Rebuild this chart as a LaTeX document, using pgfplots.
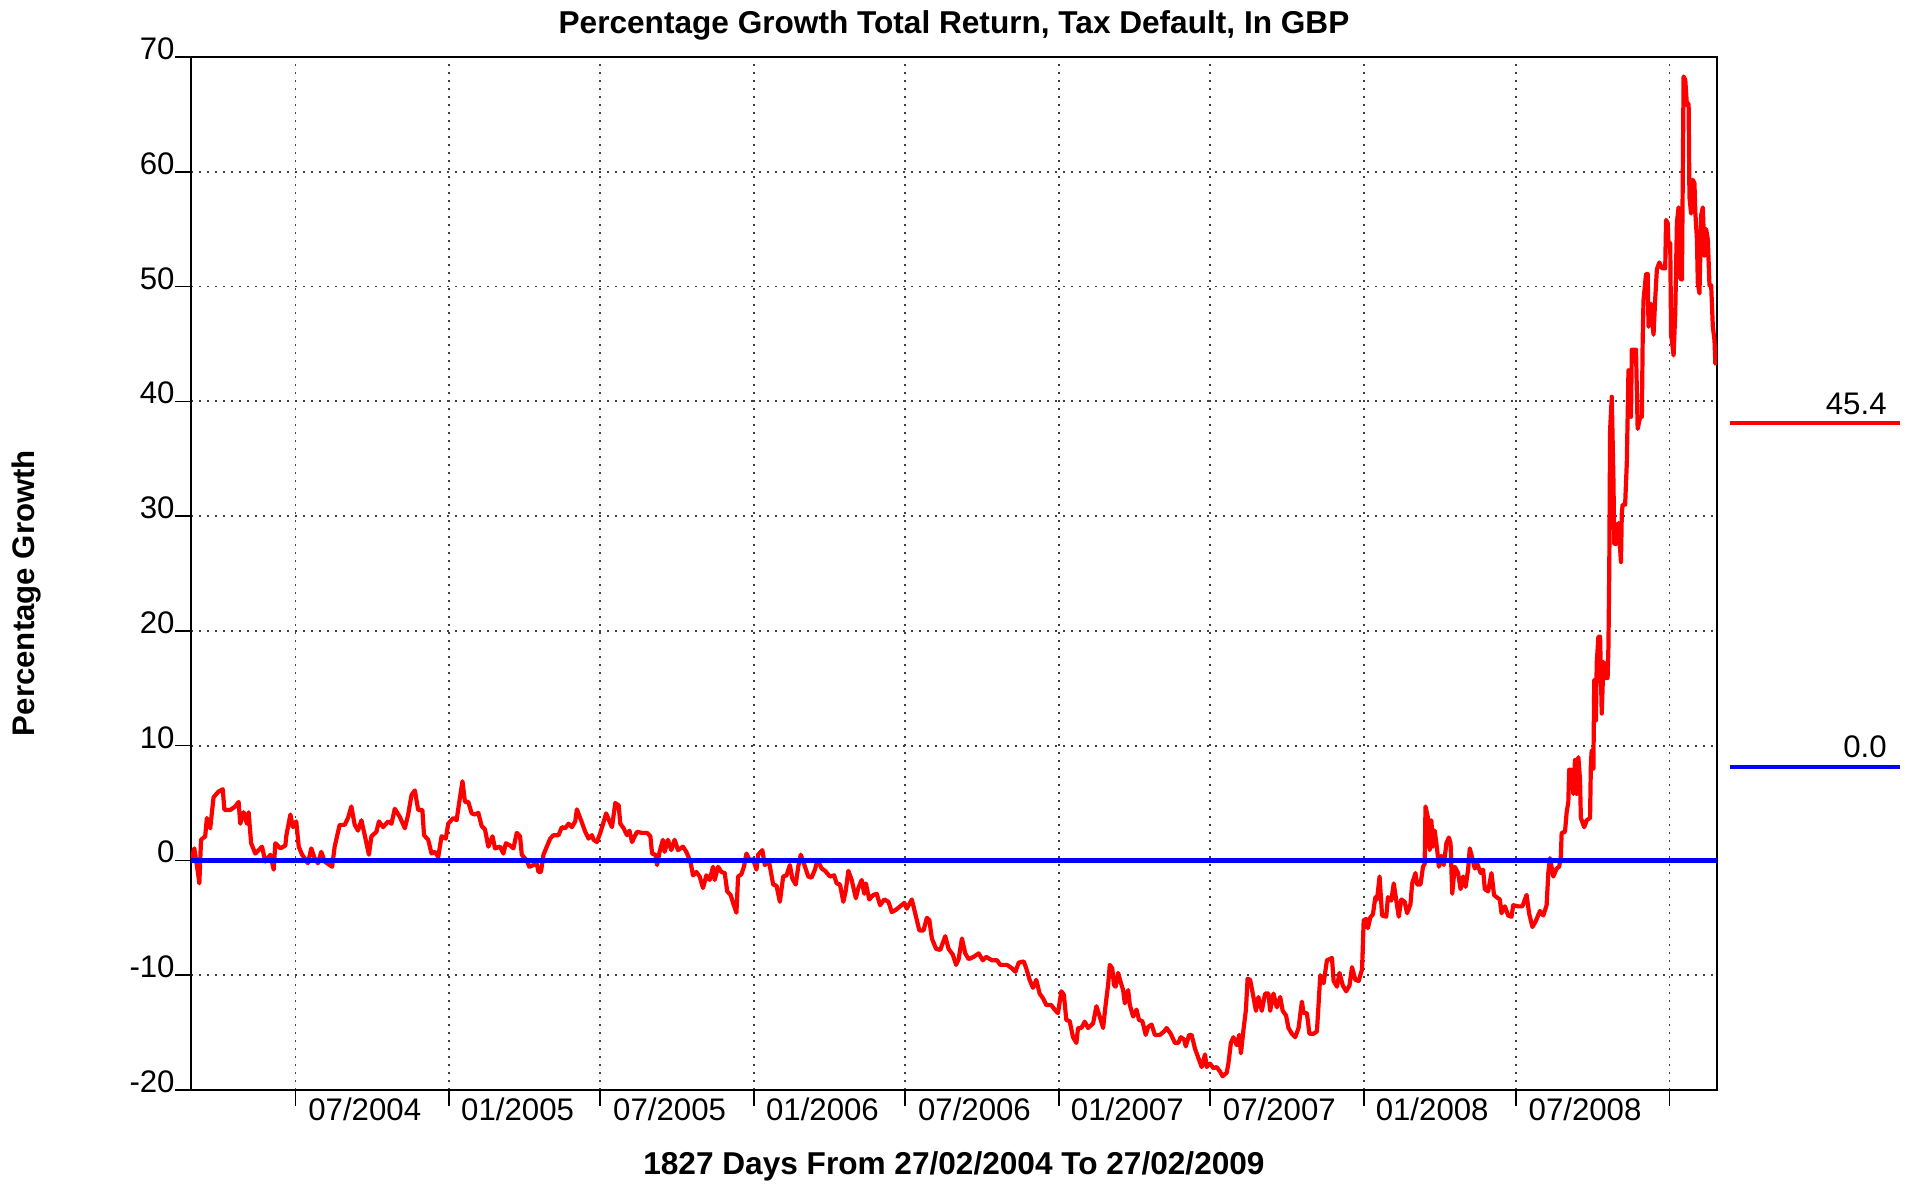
\documentclass[border=0pt]{standalone}
\usepackage{pgfplots}
\pgfplotsset{compat=1.18}
\usepackage{fontspec}
\setmainfont{Liberation Sans}
\begin{document}
\begin{tikzpicture}
\path[use as bounding box] (-95.5pt,-51pt) rectangle (859.5pt,545pt);
\begin{axis}[
  at={(0pt,0pt)}, anchor=south west,
  width=763pt, height=516.5pt, scale only axis,
  xmin=0, xmax=1827, ymin=-20, ymax=70,
  axis line style={line width=1pt, black},
  xtick={125,309,490,674,855,1039,1220,1404,1586,1770},
  xticklabels={},
  extra x ticks={208,391,573,756,938,1121,1303,1486,1669},
  extra x tick labels={07/2004,01/2005,07/2005,01/2006,07/2006,01/2007,07/2007,01/2008,07/2008},
  extra x tick style={major tick length=0pt, grid=none},
  ytick={-20,-10,...,70},
  tick align=outside, xtick pos=bottom, ytick pos=left,
  major tick length=8pt,
  tick style={black, line width=0.8pt},
  grid=major,
  major grid style={black!75, line width=0.9pt, dash pattern=on 0.9pt off 3.1pt},
  tick label style={font=\fontsize{15.6}{17}\selectfont},
  /pgf/number format/assume math mode=true,
  yticklabel style={anchor=south east, inner sep=0pt, yshift=-1.6pt},
  xticklabel style={anchor=north, inner sep=0pt, yshift=-3.7pt},
]
\addplot[red, line width=2.1pt, line join=round] coordinates {
(0,0.0) (4,1.05) (9,-1.4) (10,-2.0) (12,1.8) (17,2.1) (19,3.7) (23,2.8) (27,5.5) (33,6.0) (38,6.2) (40,4.4) (47,4.4) (53,4.7) (57,5.1) (59,3.2) (63,4.2) (67,3.2) (69,4.2) (72,1.5) (77,0.6) (81,0.9) (85,1.2) (89,-0.1) (95,0.5) (99,-0.8) (101,1.5) (107,1.05) (113,1.3) (114,2.1) (119,4.0) (122,2.9) (126,3.4) (129,1.2) (133,0.5) (136,0.2) (140,-0.25) (144,1.05) (148,0.2) (152,-0.25) (156,0.75) (160,-0.1) (166,-0.4) (169,-0.55) (172,1.2) (178,3.1) (184,3.1) (188,3.7) (192,4.7) (196,3.1) (200,2.6) (204,3.5) (208,2.2) (213,0.5) (216,2.1) (222,2.5) (225,3.4) (230,2.9) (236,3.4) (240,3.2) (244,4.5) (250,3.8) (256,2.8) (260,4.0) (264,5.7) (268,6.1) (272,4.4) (277,4.4) (279,2.2) (284,1.8) (288,0.6) (292,0.75) (296,0.3) (300,2.1) (305,1.9) (308,3.2) (314,3.7) (318,3.5) (321,5.0) (325,6.9) (328,5.1) (332,5.1) (336,4.1) (340,4.0) (344,4.15) (348,3.0) (352,2.7) (356,1.2) (361,2.1) (364,1.05) (370,1.2) (374,0.6) (377,1.5) (382,1.3) (386,1.05) (390,2.4) (394,2.1) (396,0.5) (402,0.0) (405,-0.55) (410,-0.4) (414,-0.3) (416,-1.0) (419,-1.0) (422,0.5) (426,1.2) (430,1.9) (434,2.2) (440,2.2) (444,2.9) (448,2.8) (452,3.2) (456,2.9) (460,3.4) (462,4.45) (467,3.5) (472,2.5) (476,1.9) (480,2.2) (482,1.8) (486,1.6) (490,2.4) (493,3.1) (497,4.1) (501,3.4) (504,2.9) (508,5.0) (512,4.8) (514,3.2) (518,2.8) (522,2.2) (525,2.6) (528,1.6) (532,2.2) (534,2.5) (540,2.4) (546,2.4) (550,2.1) (552,0.6) (556,0.5) (558,-0.4) (561,0.75) (565,1.8) (567,0.75) (571,1.8) (575,0.9) (579,1.8) (583,0.9) (589,1.2) (593,0.75) (598,-0.1) (601,-1.3) (605,-1.0) (609,-1.4) (613,-2.4) (617,-1.3) (621,-1.7) (625,-0.55) (627,-1.7) (631,-0.55) (635,-1.0) (639,-1.1) (642,-2.7) (646,-3.0) (649,-3.7) (653,-4.55) (655,-1.4) (659,-1.2) (662,-0.55) (665,0.6) (669,0.0) (673,0.1) (677,-0.8) (679,0.5) (684,0.9) (687,-0.4) (692,-0.1) (697,-2.1) (701,-2.2) (705,-3.6) (709,-1.4) (713,-1.3) (717,-0.4) (720,-1.6) (724,-2.1) (727,-0.55) (730,0.5) (734,-0.3) (739,-1.4) (743,-1.5) (747,-0.8) (750,0.05) (755,-0.7) (759,-0.9) (765,-1.4) (770,-1.3) (773,-2.0) (777,-2.1) (781,-3.6) (784,-2.6) (787,-0.9) (791,-1.7) (796,-3.3) (799,-2.4) (803,-1.7) (806,-2.9) (808,-2.0) (812,-3.4) (817,-3.0) (821,-2.9) (825,-3.9) (830,-3.4) (835,-3.6) (839,-4.5) (844,-4.3) (849,-4.0) (854,-3.7) (857,-4.2) (863,-3.4) (867,-4.6) (872,-6.1) (877,-6.1) (881,-5.0) (884,-5.2) (887,-6.8) (892,-7.7) (897,-7.8) (903,-6.6) (907,-7.7) (912,-8.2) (916,-9.1) (919,-8.6) (923,-6.8) (927,-8.1) (931,-8.6) (937,-8.4) (943,-8.1) (948,-8.7) (952,-8.4) (959,-8.7) (965,-8.7) (969,-9.1) (977,-9.1) (983,-9.4) (987,-9.7) (991,-8.9) (997,-8.8) (1000,-9.4) (1004,-10.4) (1008,-11.1) (1012,-10.4) (1016,-11.6) (1020,-12.0) (1024,-12.6) (1030,-12.6) (1034,-13.0) (1038,-13.3) (1042,-11.4) (1045,-11.7) (1048,-13.9) (1052,-14.0) (1056,-15.4) (1060,-15.9) (1062,-14.6) (1066,-14.6) (1070,-14.05) (1074,-14.6) (1080,-14.2) (1084,-12.7) (1088,-13.6) (1092,-14.6) (1095,-12.6) (1098,-10.85) (1100,-9.1) (1103,-9.4) (1105,-10.85) (1107,-11.0) (1110,-9.8) (1113,-10.6) (1116,-11.3) (1118,-12.45) (1122,-11.3) (1124,-12.6) (1128,-13.6) (1132,-13.0) (1135,-13.9) (1139,-14.0) (1143,-15.2) (1146,-14.5) (1150,-14.3) (1154,-15.2) (1160,-15.2) (1165,-14.9) (1168,-14.6) (1173,-15.1) (1178,-15.9) (1182,-15.9) (1185,-15.4) (1189,-15.6) (1191,-16.2) (1195,-15.2) (1198,-15.2) (1202,-16.4) (1206,-17.2) (1210,-18.0) (1214,-16.9) (1216,-18.0) (1220,-17.7) (1224,-18.1) (1228,-18.0) (1232,-18.4) (1235,-18.8) (1240,-18.5) (1242,-17.7) (1245,-15.9) (1248,-15.4) (1252,-16.1) (1255,-15.2) (1257,-16.8) (1260,-14.8) (1263,-13.0) (1265,-10.3) (1268,-10.4) (1272,-11.9) (1275,-13.1) (1278,-11.9) (1282,-13.1) (1286,-11.6) (1290,-11.6) (1292,-13.1) (1296,-11.6) (1300,-12.8) (1304,-11.9) (1307,-13.1) (1311,-13.5) (1314,-14.6) (1318,-15.1) (1322,-15.4) (1326,-14.6) (1330,-12.3) (1332,-13.3) (1336,-13.3) (1339,-15.1) (1344,-15.1) (1348,-14.9) (1350,-12.5) (1352,-10.0) (1356,-10.7) (1360,-8.7) (1366,-8.5) (1368,-10.5) (1372,-11.0) (1375,-9.8) (1379,-10.9) (1383,-11.4) (1387,-10.9) (1390,-9.3) (1394,-10.4) (1398,-10.5) (1402,-9.5) (1404,-5.2) (1407,-5.1) (1409,-5.9) (1412,-4.95) (1415,-4.7) (1418,-3.2) (1420,-3.4) (1423,-1.4) (1426,-4.8) (1431,-4.9) (1433,-3.2) (1437,-3.5) (1440,-2.0) (1443,-3.5) (1446,-4.9) (1449,-3.4) (1453,-3.6) (1456,-4.6) (1460,-3.8) (1462,-2.0) (1466,-1.1) (1468,-2.1) (1472,-2.1) (1475,-0.55) (1477,-0.3) (1478,4.7) (1481,3.7) (1483,0.9) (1485,3.5) (1487,1.2) (1489,2.6) (1492,0.9) (1494,-0.55) (1497,0.4) (1500,-0.4) (1503,1.5) (1506,2.0) (1508,1.5) (1510,-2.9) (1513,-0.55) (1517,-1.1) (1520,-2.5) (1523,-1.4) (1526,-2.3) (1529,-0.8) (1531,1.05) (1534,0.2) (1537,-0.7) (1540,-0.3) (1544,-1.1) (1547,-0.8) (1549,-2.5) (1553,-2.7) (1557,-1.1) (1560,-3.0) (1563,-3.2) (1567,-3.4) (1569,-4.6) (1573,-4.0) (1577,-4.8) (1581,-4.9) (1583,-3.9) (1589,-4.0) (1594,-4.0) (1599,-3.0) (1602,-4.6) (1606,-5.8) (1610,-5.3) (1615,-4.4) (1619,-4.8) (1623,-3.9) (1625,-1.1) (1627,0.2) (1631,-1.4) (1635,-0.7) (1638,-0.55) (1640,0.3) (1641,2.4) (1645,2.5) (1647,4.2) (1649,5.1) (1650,7.9) (1653,7.9) (1655,5.8) (1657,8.75) (1659,5.8) (1661,9.0) (1663,7.0) (1664,3.7) (1668,2.9) (1671,3.5) (1675,3.7) (1676,8.5) (1677,9.6) (1679,8.0) (1680,15.7) (1682,12.2) (1683,17.2) (1685,19.5) (1687,19.5) (1689,12.8) (1691,17.3) (1693,15.9) (1696,15.9) (1697,18.6) (1698,25.3) (1699,37.5) (1701,40.4) (1703,33.1) (1704,27.6) (1707,27.6) (1709,29.4) (1712,26.0) (1713,30.2) (1714,31.0) (1717,31.0) (1719,34.6) (1721,42.7) (1724,38.65) (1725,44.5) (1730,44.5) (1732,37.6) (1735,38.65) (1737,38.65) (1738,45.3) (1739,48.8) (1742,51.1) (1744,51.1) (1745,46.5) (1748,48.5) (1751,45.8) (1753,48.9) (1755,51.5) (1758,52.1) (1761,51.6) (1765,51.6) (1766,55.8) (1768,55.5) (1769,53.5) (1771,53.8) (1772,45.9) (1775,44.0) (1777,47.7) (1779,55.6) (1781,56.9) (1783,50.7) (1785,50.6) (1787,68.3) (1789,68.0) (1791,65.8) (1793,65.9) (1794,57.8) (1796,56.35) (1798,59.3) (1800,59.0) (1801,56.5) (1803,54.1) (1804,50.3) (1806,49.4) (1808,56.2) (1810,56.9) (1812,52.7) (1814,55.0) (1816,54.1) (1818,50.1) (1820,50.1) (1822,46.5) (1824,45.3) (1825,43.3) (1827,43.4)
};
\addplot[blue, line width=2.2pt] coordinates {(0,0) (1827,0)};
\end{axis}
\node[anchor=base, font=\fontsize{15.8}{17}\selectfont\bfseries] at (381.5pt,528pt) {Percentage Growth Total Return, Tax Default, In GBP};
\node[anchor=base, font=\fontsize{15.8}{17}\selectfont\bfseries] at (381.5pt,-42.5pt) {1827 Days From 27/02/2004 To 27/02/2009};
\node[rotate=90, anchor=center, font=\fontsize{15.6}{17}\selectfont\bfseries] at (-82pt,248.5pt) {Percentage Growth};
\draw[red, line width=2pt] (769.5pt,333.7pt) -- (854.5pt,333.7pt);
\node[anchor=base east, inner sep=0pt, font=\fontsize{15.6}{17}\selectfont] at (848pt,337.5pt) {45.4};
\draw[blue, line width=2pt] (769.5pt,161.7pt) -- (854.5pt,161.7pt);
\node[anchor=base east, inner sep=0pt, font=\fontsize{15.6}{17}\selectfont] at (848pt,166pt) {0.0};
\end{tikzpicture}
\end{document}
